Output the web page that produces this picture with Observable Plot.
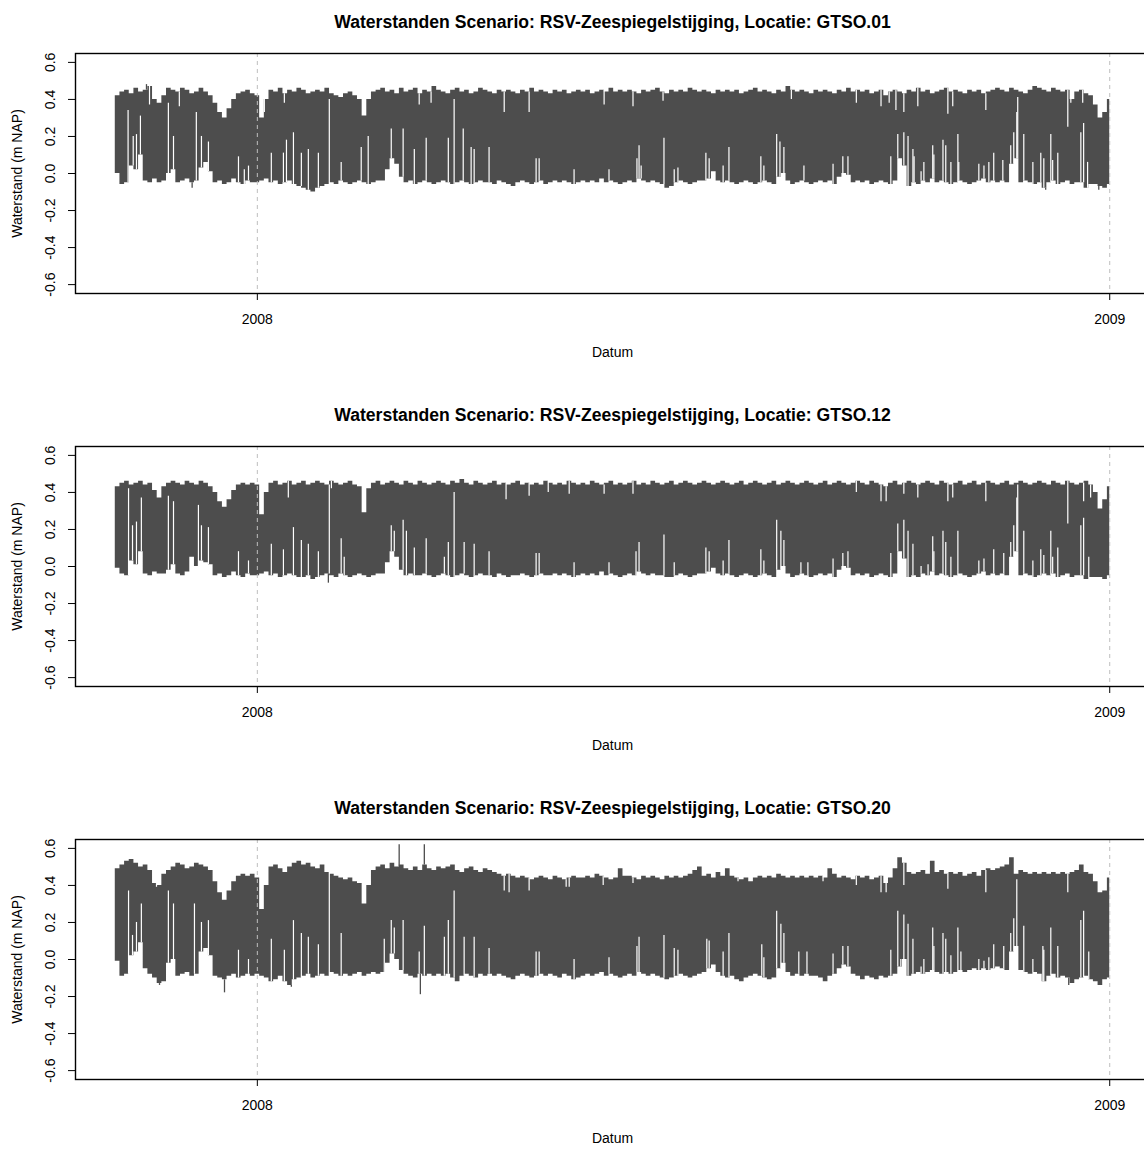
<!DOCTYPE html>
<html><head><meta charset="utf-8">
<script src="https://cdn.jsdelivr.net/npm/d3@7"></script>
<script src="https://cdn.jsdelivr.net/npm/@observablehq/plot@0.6"></script>
<style>
html,body{margin:0;padding:0;background:#fff;overflow:hidden;width:1144px;height:1149px}
#chart{width:1150px}
#chart svg{display:block}
</style></head><body><div id="chart"></div>
<script>
// ---- texts & ticks ----
const locations = ["GTSO.01", "GTSO.12", "GTSO.20"];
const titlePrefix = "Waterstanden Scenario: RSV-Zeespiegelstijging, Locatie: ";
const xLabel = "Datum";
const yLabel = "Waterstand (m NAP)";
const yTicks = [-0.6, -0.4, -0.2, 0, 0.2, 0.4, 0.6];
const yLimits = [-0.6, 0.6];
const xTicks = ["2008-01-01", "2009-01-01"];
const seriesStart = "2007-11-01";
const seriesEnd = "2009-01-01";
const binDays = 2; // each hi/lo value = envelope over 2 days (cm NAP)

// ---- GTSO.01 (cm NAP) ----
const hi01 = [42,44,45,43,46,44,45,47,40,38, 42,46,45,44,46,45,43,44,46,44, 42,38,33,30,35,40,43,44,45,43, 42,30,40,45,44,46,43,45,44,46,
 45,43,44,45,44,46,43,42,41,43, 44,42,40,31,40,44,45,46,44,45, 43,46,44,45,46,43,45,44,47,45, 44,43,45,46,44,45,43,44,46,45,
 44,43,45,44,45,44,43,45,44,46, 44,45,44,43,45,44,45,43,44,45, 44,45,43,44,45,44,46,44,45,44, 45,44,43,45,44,45,46,44,43,45,
 44,45,44,46,45,44,45,44,43,45, 44,45,44,45,43,44,45,46,44,45, 44,43,45,44,47,45,44,45,44,43, 45,44,45,44,43,45,44,46,44,45,
 44,45,43,44,45,42,44,45,44,43, 45,44,46,44,45,43,44,45,46,44, 45,44,43,45,44,45,43,44,45,46, 45,44,46,45,44,43,45,47,46,45,
 44,46,45,44,45,40,44,45,43,42, 37,30,33,40];
const lo01 = [0,-6,-5,4,2,10,-4,-5,-3,-5, -4,0,2,-5,-4,-3,-5,-4,3,6, 1,-5,-4,-6,-5,-3,-5,-6,-4,-5, -5,-4,-3,-5,-4,-6,-5,-4,-6,-7,
 -8,-9,-10,-8,-7,-6,-5,-6,-4,-5, -6,-5,-4,-5,-6,-5,-4,-4,2,8, 5,-2,-5,-4,-6,-5,-4,-5,-6,-5, -4,-5,-6,-5,-4,-5,-6,-5,-4,-5,
 -5,-6,-4,-5,-6,-7,-5,-4,-5,-6, -5,-4,-6,-5,-4,-5,-4,-5,-6,-5, -4,-5,-4,-5,-3,-5,-4,-5,-6,-5, -4,-5,-3,-4,-5,-4,-5,-6,-8,-7,
 -5,-4,-5,-6,-5,-4,-4,-3,1,-4, -5,-4,-5,-6,-5,-4,-5,-6,-5,-4, -5,-6,-2,0,-4,-6,-5,-4,-5,-6, -5,-4,-5,-4,-6,-2,0,-1,-5,-4,
 -5,-4,-6,-5,-4,-5,-6,-4,8,4, -7,-5,-6,-4,-5,-3,-5,-4,-5,-6, -5,-4,-5,-6,-5,-4,-3,-5,-4,-5, -4,-5,5,8,-5,-4,-5,-6,-5,-8,
 -5,-4,-6,-5,-4,-6,-5,-5,-8,-6, -6,-7,-8,-6];
// single tides: [day since start, low water cm] (low that stayed high)
const spikes01 = [[5.5,34],[7.7,20],[9.1,21],[10.8,31],[22.8,38],[25,20],[34.8,33],[37,20],[40,17],[52.9,9],[55.4,2],[57.2,4],[67,11],[72.2,11],[73.5,18],[76.5,22],[79.9,11],[82.9,13],[87.2,11],[91.9,40],[97,6],[105.6,14],[108.6,20],[118.5,24],[123.6,24],[128.4,13],[133.5,19],[143,19],[145.5,40],[149.4,24],[152.8,14],[154.1,13],[160.5,14],[180.7,8],[182,8],[197,2],[212,2],[224,8],[224.9,15],[225.8,4],[235.6,19],[240,2],[241.6,3],[253.6,11],[255,8],[261,4],[263.5,14],[277.2,9],[278.5,4],[284,21],[285.4,17],[287.1,14],[295.7,4],[308.2,5],[312.4,9],[314.6,9],[333,9],[336,21],[338.6,22],[340.4,20],[342.5,13],[343,9],[346,1],[347.2,6],[351,15],[351.5,10],[355.4,18],[356.6,15],[358.8,6],[361.8,21],[362.2,6],[370.8,5],[373,4],[375.1,6],[377.2,11],[381.1,7],[384.5,15],[385.8,22],[387.1,33],[387.5,41],[390.1,21],[394,6],[397.4,11],[398.7,8],[401.7,21],[402.5,7],[404.7,11],[414.6,22],[415.8,27],[417.5,6]];
// single tides: [day, high water cm] (high that stayed low)
const dips01 = [[14.7,37],[27.5,36],[64,33],[72.6,38],[130.5,37],[135.6,38],[167,33],[177.7,33],[209.9,37],[222.3,36],[235.2,39],[290.3,40],[318.2,38],[328.8,36],[332.3,38],[335.2,34],[338.6,33],[344.6,36],[357.5,32],[359.6,36],[373.8,34],[409,25],[410.3,38],[415.4,38]];
// extremes beyond the envelope: [day, cm]
const peaks01 = [[13.4,48],[33,-8],[399.5,-9],[422.3,-9]];

// ---- GTSO.12 (cm NAP) ----
const hi02 = [43,45,46,44,45,46,44,45,41,37, 43,45,46,45,44,46,45,44,46,45, 43,40,35,32,36,41,44,45,44,45, 44,28,40,45,46,44,45,46,44,45,
 46,44,45,46,45,44,46,45,44,45, 46,44,43,29,42,45,46,44,45,46, 45,44,46,45,44,46,45,44,45,46, 45,44,46,45,47,45,44,46,45,44,
 45,46,44,45,44,45,46,44,45,44, 45,44,46,45,44,45,44,46,45,44, 45,44,46,45,44,45,46,44,45,44, 45,46,44,45,44,46,45,44,45,46,
 44,45,46,45,44,45,46,45,44,45, 46,45,44,45,46,44,45,46,45,44, 45,46,44,45,46,45,44,45,46,45, 44,45,46,44,45,46,45,44,45,46,
 45,44,46,45,44,43,45,46,44,45, 46,45,44,45,46,45,44,46,45,44, 45,46,44,45,46,44,45,46,45,44, 45,46,44,45,46,45,44,45,46,45,
 44,46,45,44,46,45,44,45,46,44, 40,31,36,43];
const lo02 = [-1,-4,-5,3,1,8,-4,-5,-3,-4, -4,-2,1,-4,-5,-3,5,0,3,2, 1,-5,-4,-6,-5,-3,-5,-6,-4,-5, -5,-4,-3,-5,-4,-6,-5,-4,-5,-6,
 -6,-5,-7,-6,-5,-4,-5,-6,-4,-5, -6,-5,-4,-5,-6,-5,-4,-4,2,8, 5,-2,-5,-4,-5,-5,-4,-5,-6,-5, -4,-5,-6,-5,-4,-5,-6,-5,-4,-5,
 -5,-6,-4,-5,-6,-5,-5,-4,-5,-6, -5,-4,-5,-5,-4,-5,-4,-5,-6,-5, -4,-5,-4,-5,-3,-5,-4,-5,-6,-5, -4,-5,-3,-4,-5,-4,-5,-5,-6,-6,
 -5,-4,-5,-6,-5,-4,-4,-3,-1,-4, -5,-4,-5,-6,-5,-4,-5,-6,-5,-4, -5,-6,-2,0,-4,-6,-5,-4,-5,-6, -5,-4,-5,-4,-6,-2,0,-1,-5,-4,
 -5,-4,-6,-5,-4,-5,-6,-4,8,4, -6,-5,-6,-4,-5,-3,-5,-4,-5,-6, -5,-4,-5,-6,-5,-4,-3,-5,-4,-5, -4,-5,5,8,-5,-4,-5,-6,-5,-4,
 -5,-4,-6,-5,-4,-6,-5,-5,-7,-6, -6,-6,-7,-5];
const spikes02 = [[5.7,42],[7.4,22],[9.1,24],[11.2,37],[22.8,38],[25,35],[35.7,33],[37,22],[40,21],[52.9,8],[57.2,3],[67,12],[72.2,9],[76.5,21],[79.9,14],[82.9,12],[87.2,8],[91.9,44],[97,15],[98.3,5],[118.5,22],[119.8,19],[123.6,25],[125,19],[128.4,10],[133.5,15],[141.3,5],[143,13],[145.5,40],[149.8,13],[154.1,12],[160.5,8],[180.7,7],[182,7],[197,2],[212,2],[223.6,8],[224.9,13],[235.6,17],[240,2],[253.6,10],[255,8],[261,3],[263.5,14],[277.2,9],[278.5,3],[284,25],[285.8,19],[287.1,14],[294.4,2],[297.4,2],[308.2,4],[312.4,7],[314.6,8],[333,7],[336,23],[338.6,25],[340.4,19],[342.5,12],[346,0],[349,1],[351,16],[351.5,8],[355.4,19],[356.6,13],[358.8,5],[361.8,19],[370.8,3],[373,4],[377.2,9],[381.5,7],[384.5,13],[385.8,22],[387.1,37],[387.5,44],[390.1,19],[394,3],[397.4,9],[398.7,6],[401.7,19],[402.5,5],[404.7,10],[414.6,22],[415.8,26],[418,5]];
const dips02 = [[74.3,37],[92.8,42],[167.8,36],[177.7,38],[185.9,40],[194.9,39],[209.9,39],[222.3,39],[318.2,40],[328.8,35],[331,35],[338.6,39],[344.6,37],[357.5,35],[359.6,37],[373.8,35],[409,23],[415.8,35],[418.8,37]];
const peaks02 = [[91.5,-9]];

// ---- GTSO.20 (cm NAP) ----
const hi03 = [49,51,53,54,52,50,51,48,41,40, 46,48,50,52,51,49,50,52,51,50, 48,42,36,32,37,42,45,46,45,46, 44,27,40,50,51,49,47,50,52,53,
 51,52,50,49,51,47,46,45,44,43, 44,42,41,30,40,48,50,51,49,52, 50,51,49,48,50,48,51,49,48,50, 49,50,51,48,47,49,50,48,47,49,
 48,47,46,45,46,45,44,45,44,43, 44,45,44,43,45,44,43,44,45,44, 44,45,44,46,45,44,43,44,49,45, 45,44,43,45,44,45,44,43,45,44,
 45,44,45,46,48,50,45,46,44,47, 45,49,45,44,43,44,42,44,45,44, 45,44,46,45,44,45,44,45,44,45, 44,45,44,49,46,44,45,44,43,45,
 44,45,43,44,45,41,44,49,55,52, 47,46,47,48,46,53,47,48,46,47, 46,47,45,46,47,45,48,49,48,49, 50,51,55,46,48,47,46,47,46,47,
 46,47,46,47,46,47,48,51,47,46, 42,36,37,44];
const lo03 = [-1,-9,-8,2,4,9,-5,-8,-10,-13, -12,-2,0,-9,-8,-7,-9,-8,4,6, 2,-9,-10,-11,-9,-8,-10,-9,-8,-9, -8,-9,-10,-12,-11,-9,-12,-14,-11,-10,
 -9,-8,-10,-9,-8,-9,-7,-8,-9,-8, -9,-8,-7,-9,-8,-7,-8,-7,-2,3, 0,-6,-8,-9,-10,-8,-9,-8,-9,-8, -9,-8,-10,-12,-9,-8,-9,-10,-8,-9,
 -8,-9,-8,-9,-10,-11,-9,-8,-9,-10, -9,-8,-9,-8,-9,-10,-8,-9,-11,-10, -9,-8,-9,-8,-7,-9,-8,-9,-10,-9, -8,-9,-7,-8,-9,-8,-9,-10,-11,-10,
 -9,-8,-9,-10,-9,-8,-7,-5,-3,-7, -9,-10,-9,-11,-12,-10,-9,-8,-9,-10, -11,-10,-5,-2,-7,-9,-8,-9,-8,-9, -9,-10,-12,-9,-8,-5,-3,-4,-8,-9,
 -11,-9,-10,-11,-9,-10,-9,-8,-4,0, -9,-8,-7,-8,-7,-6,-7,-8,-7,-8, -7,-6,-7,-6,-5,-6,-5,-6,-5,-4, -5,-6,4,7,-6,-7,-8,-7,-8,-12,
 -9,-8,-10,-9,-10,-13,-11,-10,-9,-11, -12,-14,-11,-10];
const spikes03 = [[5.7,37],[7.4,13],[9.1,20],[11.2,30],[22.8,37],[25,30],[34,30],[37,20],[40,21],[52.9,5],[57.2,0],[67,11],[72.6,5],[76.5,21],[79.9,14],[82.9,12],[87.2,8],[91.9,49],[97,14],[115.5,11],[118.5,21],[119.8,17],[123.6,21],[130.5,4],[132.7,18],[141.3,12],[143,21],[145.5,37],[149.8,12],[154.1,12],[160.5,6],[180.7,4],[182,4],[197,0],[212,1],[224,7],[224.9,12],[235.6,13],[240,6],[241.6,5],[254,11],[255,10],[261,4],[263.5,14],[277.6,8],[278.5,1],[284,26],[285.8,19],[287.1,14],[293.5,4],[297,4],[308.2,3],[312.4,7],[314.6,7],[333,5],[336,26],[337.3,0],[338.6,24],[340.4,19],[342.5,11],[346,-4],[347.2,0],[351,17],[351.5,7],[355.4,14],[356.6,11],[358.8,2],[361.8,17],[363.1,4],[370.8,0],[373,-1],[375.1,1],[377.2,8],[381.5,7],[384.5,14],[385.8,22],[387.1,43],[390.1,18],[394,0],[398.3,7],[398.7,5],[401.7,17],[404.7,7],[414.6,21],[415.8,26],[418,4]];
const dips03 = [[17.7,39],[167,37],[169.1,36],[177.7,37],[193.6,39],[194.9,39],[209.5,40],[222.3,41],[267.4,42],[303.9,42],[318.2,40],[328.8,36],[331,36],[338.6,40],[357.5,38],[373.8,36],[409,36]];
const peaks03 = [[121.9,62],[132.7,62],[46.9,-18],[131,-19],[19,-14],[75.6,-15],[409.4,-14],[423.1,-14]];

// ---- drawing ----
const DAY = 864e5;
const t0 = Date.parse(seriesStart + "T00:00:00Z");
const tEnd = Date.parse(seriesEnd + "T00:00:00Z");
const spanDays = (tEnd - t0) / DAY;
const xPad = 0.04 * (tEnd - t0);
const xDomain = [new Date(t0 - xPad), new Date(tEnd + xPad)];
const yPad = 0.04 * (yLimits[1] - yLimits[0]);
const yDomain = [yLimits[0] - yPad, yLimits[1] + yPad];
const toDate = d => new Date(t0 + d * DAY);
const xTickDates = xTicks.map(s => new Date(s + "T00:00:00Z"));
const font = "'Liberation Sans', Arial, Helvetica, sans-serif";
const lineColor = "#4d4d4d";

function panel(loc, hi, lo, spikes, dips, peaks) {
  const n = hi.length;
  const band = hi.map((h, i) => ({t: toDate(i * binDays), hi: h / 100, lo: lo[i] / 100}));
  band.push({t: toDate(spanDays), hi: hi[n - 1] / 100, lo: lo[n - 1] / 100});
  const binOf = d => Math.min(n - 1, Math.max(0, Math.floor(d / binDays)));
  const sp = spikes.map(([d, v]) => ({t: toDate(d), a: lo[binOf(d)] / 100, b: v / 100}));
  const dp = dips.map(([d, v]) => ({t: toDate(d), a: v / 100, b: hi[binOf(d)] / 100}));
  const pk = peaks.map(([d, v]) => { const b = binOf(d); return {t: toDate(d), a: (v > 0 ? hi[b] : lo[b]) / 100, b: v / 100}; });
  return Plot.plot({
    width: 1150, height: 393,
    marginLeft: 75, marginRight: 1, marginTop: 53, marginBottom: 100,
    style: {fontFamily: font, fontSize: "14px", background: "white", color: "black", overflow: "visible"},
    x: {type: "utc", domain: xDomain},
    y: {domain: yDomain},
    marks: [
      Plot.areaY(band, {x: "t", y1: "lo", y2: "hi", curve: "step-after", fill: lineColor}),
      Plot.ruleX(sp, {x: "t", y1: "a", y2: "b", stroke: "white", strokeWidth: 1.2}),
      Plot.ruleX(dp, {x: "t", y1: "a", y2: "b", stroke: "white", strokeWidth: 1.2}),
      Plot.ruleX(pk, {x: "t", y1: "a", y2: "b", stroke: lineColor, strokeWidth: 1.3}),
      Plot.ruleX(xTickDates, {stroke: "#bebebe", strokeDasharray: "4,4"}),
      Plot.frame({stroke: "black", strokeWidth: 1.4}),
      Plot.axisX({ticks: xTickDates, tickFormat: "%Y", tickSize: 7, tickPadding: 14, label: null, fontSize: 14}),
      Plot.axisY({ticks: yTicks, tickFormat: d => d.toFixed(1), tickSize: 7, tickRotate: -90, tickPadding: 14, label: null, fontSize: 14}),
      Plot.text([xLabel], {frameAnchor: "bottom", dy: 63, text: d => d, fontSize: 14}),
      Plot.text([yLabel], {frameAnchor: "left", dx: -58, rotate: -90, textAnchor: "middle", text: d => d, fontSize: 14}),
      Plot.text([titlePrefix + loc], {frameAnchor: "top", dy: -38, textAnchor: "middle", text: d => d, fontSize: 17.6, fontWeight: "bold"})
    ]
  });
}

const chart = document.getElementById("chart");
chart.append(panel(locations[0], hi01, lo01, spikes01, dips01, peaks01));
chart.append(panel(locations[1], hi02, lo02, spikes02, dips02, peaks02));
chart.append(panel(locations[2], hi03, lo03, spikes03, dips03, peaks03));
</script>
</body></html>
